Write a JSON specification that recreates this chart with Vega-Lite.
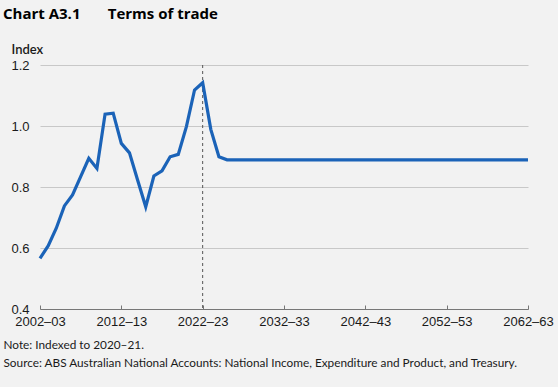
{
  "$schema": "https://vega.github.io/schema/vega-lite/v6.json",
  "width": 488,
  "height": 244,
  "autosize": "none",
  "padding": {"left": 40, "top": 65, "right": 30, "bottom": 78},
  "background": "#f2f2f2",
  "title": {
    "text": "Chart A3.1\u00a0\u00a0\u00a0\u00a0\u00a0\u00a0\u00a0Terms of trade",
    "anchor": "start",
    "frame": "group",
    "dx": -37,
    "dy": -21,
    "offset": 0,
    "fontSize": 15,
    "font": "Open Sans",
    "fontWeight": "bold",
    "color": "#000000"
  },
  "config": {
    "view": {"stroke": null},
    "axis": {"labelFont": "Liberation Sans", "labelFontSize": 13, "labelColor": "#1a1a1a", "titleFont": "Lato"}
  },
  "data": {
    "values": [
      {"year": 2002, "value": 0.566},
      {"year": 2003, "value": 0.607},
      {"year": 2004, "value": 0.665},
      {"year": 2005, "value": 0.738},
      {"year": 2006, "value": 0.774},
      {"year": 2007, "value": 0.834},
      {"year": 2008, "value": 0.894},
      {"year": 2009, "value": 0.861},
      {"year": 2010, "value": 1.039},
      {"year": 2011, "value": 1.042},
      {"year": 2012, "value": 0.943},
      {"year": 2013, "value": 0.912},
      {"year": 2014, "value": 0.823},
      {"year": 2015, "value": 0.735},
      {"year": 2016, "value": 0.836},
      {"year": 2017, "value": 0.853},
      {"year": 2018, "value": 0.899},
      {"year": 2019, "value": 0.907},
      {"year": 2020, "value": 0.998},
      {"year": 2021, "value": 1.118},
      {"year": 2022, "value": 1.142},
      {"year": 2023, "value": 0.989},
      {"year": 2024, "value": 0.899},
      {"year": 2025, "value": 0.889},
      {"year": 2030, "value": 0.889},
      {"year": 2035, "value": 0.889},
      {"year": 2040, "value": 0.889},
      {"year": 2045, "value": 0.889},
      {"year": 2050, "value": 0.889},
      {"year": 2055, "value": 0.889},
      {"year": 2062, "value": 0.889}
    ]
  },
  "layer": [
    {
      "mark": {"type": "rule", "color": "#555555", "strokeDash": [3, 3], "strokeWidth": 1},
      "data": {"values": [{"year": 2022}]},
      "encoding": {
        "x": {"field": "year", "type": "quantitative"}
      }
    },
    {
      "mark": {"type": "line", "color": "#1b63b8", "strokeWidth": 3.2, "strokeJoin": "miter"},
      "encoding": {
        "x": {
          "field": "year",
          "type": "quantitative",
          "scale": {"domain": [2002, 2062], "nice": false, "zero": false},
          "axis": {
            "values": [2002, 2012, 2022, 2032, 2042, 2052, 2062],
            "labelExpr": "datum.value + '–' + substring(toString(datum.value + 1), 2, 4)",
            "grid": false,
            "domain": true,
            "domainColor": "#777777",
            "domainWidth": 1,
            "tickColor": "#777777",
            "tickSize": -4,
            "labelPadding": 10,
            "labelBaseline": "top",
            "labelFlush": false,
            "title": ["Note: Indexed to 2020–21.", "Source: ABS Australian National Accounts: National Income, Expenditure and Product, and Treasury."],
            "titleAnchor": "start",
            "titleAlign": "left",
            "titleX": -37,
            "titleY": 30,
            "titleFontSize": 11.8,
            "titleFontWeight": "normal",
            "titleColor": "#1a1a1a",
            "titleLineHeight": 18,
            "titleBaseline": "top"
          }
        },
        "y": {
          "field": "value",
          "type": "quantitative",
          "scale": {"domain": [0.4, 1.2], "nice": false, "zero": false},
          "axis": {
            "values": [0.4, 0.6, 0.8, 1.0, 1.2],
            "format": ".1f",
            "domain": false,
            "ticks": false,
            "labelPadding": 11,
            "gridColor": "#c8c8c8",
            "gridWidth": 1,
            "title": "Index",
            "titleAngle": 0,
            "titleAlign": "left",
            "titleBaseline": "top",
            "titleX": -29,
            "titleY": -22,
            "titleFontSize": 13,
            "titleFontWeight": 600,
            "titleColor": "#1a1a1a"
          }
        }
      }
    }
  ]
}
